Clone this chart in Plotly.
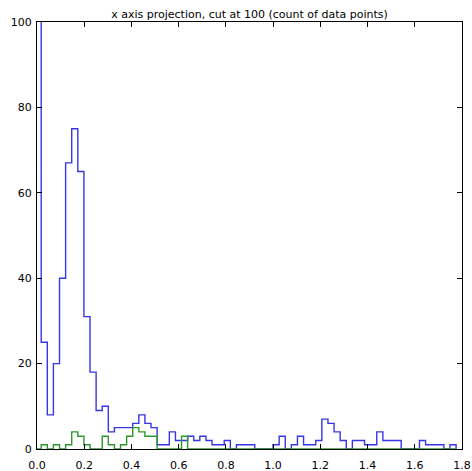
import numpy as np
import plotly.graph_objects as go

# Histogram bins (data units)
BIN_START = -0.008
BIN_WIDTH = 0.02584
N_BINS = 69

# Blue series counts per bin (first bin exceeds the 100 cut)
blue_counts = [150, 25, 8, 20, 40, 67, 75, 65, 31, 18,
               9, 10, 4, 5, 5, 5, 6, 8, 6, 5,
               1, 1, 4, 2, 2, 3, 2, 3, 2, 1,
               1, 2, 0, 1, 1, 1, 0, 0, 0, 1,
               3, 0, 1, 3, 1, 1, 2, 7, 6, 4,
               2, 0, 2, 2, 1, 1, 4, 2, 2, 2,
               0, 0, 0, 2, 1, 1, 1, 0, 1]

# Green series counts per bin
green_counts = [0, 1, 0, 1, 0, 1, 4, 3, 1, 0,
                0, 3, 1, 0, 1, 3, 5, 4, 3, 3,
                0, 0, 0, 0, 3, 0, 0, 0, 0, 0,
                0, 0, 0, 0, 0, 0, 0, 0, 0, 0,
                0, 0, 0, 0, 0, 0, 0, 0, 0, 0,
                0, 0, 0, 0, 0, 0, 0, 0, 0, 0,
                0, 0, 0, 0, 0, 0, 0, 0, 0]

x_ticks = [0.0, 0.2, 0.4, 0.6, 0.8, 1.0, 1.2, 1.4, 1.6, 1.8]
x_tick_labels = ["0.0", "0.2", "0.4", "0.6", "0.8", "1.0", "1.2", "1.4", "1.6", "1.8"]
y_ticks = [0, 20, 40, 60, 80, 100]
y_tick_labels = ["0", "20", "40", "60", "80", "100"]

TITLE = "x axis projection, cut at 100 (count of data points)"

edges = BIN_START + BIN_WIDTH * np.arange(N_BINS + 1)


def step_outline(counts):
    xs = [edges[0]] + list(edges[:-1]) + [edges[-1], edges[-1]]
    ys = [0] + list(counts) + [counts[-1], 0]
    return xs, ys


fig = go.Figure()
for counts, color in [(blue_counts, "#3636e6"), (green_counts, "#2f962f")]:
    xs, ys = step_outline(counts)
    fig.add_trace(go.Scatter(x=xs, y=ys, mode="lines",
                             line=dict(color=color, width=1.4, shape="hv"),
                             hoverinfo="skip", showlegend=False))

axis_common = dict(showline=True, linecolor="black", linewidth=1, mirror="ticks",
                   ticks="inside", ticklen=5, tickcolor="black", tickwidth=1,
                   showgrid=False, zeroline=False, automargin=False,
                   tickfont=dict(family="DejaVu Sans", size=11, color="black"))

W, H = 472, 471
fig.update_layout(
    width=W, height=H,
    margin=dict(l=37, r=10, t=22, b=22, autoexpand=False),
    paper_bgcolor="white", plot_bgcolor="white",
    title=dict(text=TITLE, x=0.5, xref="paper", xanchor="center",
               y=1 - 14 / H, yref="container", yanchor="middle",
               font=dict(family="DejaVu Sans", size=11, color="black")),
    xaxis=dict(range=[0, 1.8], tickvals=x_ticks, ticktext=x_tick_labels,
               ticklabelstandoff=6, **axis_common),
    yaxis=dict(range=[0, 100], tickvals=y_ticks, ticktext=y_tick_labels,
               ticklabelstandoff=2, **axis_common),
)

fig.write_html(
    "out.html",
    config={"displayModeBar": False},
    post_script="document.body.style.margin='0';document.body.style.overflow='hidden';",
)
